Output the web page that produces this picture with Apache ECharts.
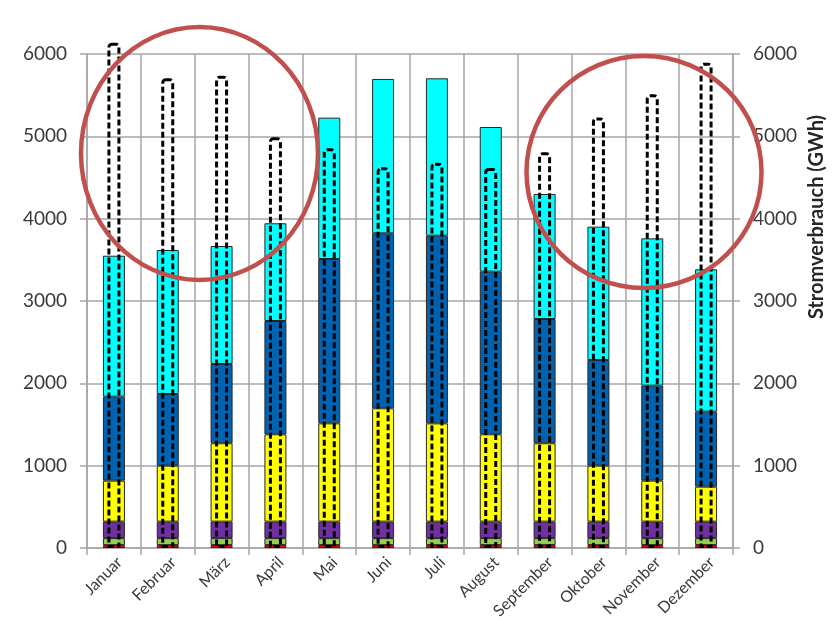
<!DOCTYPE html>
<html>
<head>
<meta charset="utf-8">
<script src="https://cdn.jsdelivr.net/npm/echarts@6/dist/echarts.min.js"></script>
<style>
  html, body { margin: 0; padding: 0; background: #ffffff; }
  #chart { width: 840px; height: 633px; }
</style>
</head>
<body>
<div id="chart"></div>
<script>
// Monthly electricity generation by source (stacked, GWh) and monthly consumption (dashed outline)
const months = ['Januar', 'Februar', 'März', 'April', 'Mai', 'Juni', 'Juli', 'August', 'September', 'Oktober', 'November', 'Dezember'];

const sourceRed    = [35, 35, 35, 35, 35, 35, 35, 35, 35, 35, 35, 35];
const sourceGreen  = [85, 85, 85, 85, 85, 85, 85, 85, 85, 85, 85, 85];
const sourcePurple = [200, 200, 200, 200, 200, 200, 200, 200, 200, 200, 200, 200];
const sourceYellow = [498, 680, 952, 1061, 1194, 1377, 1194, 1061, 952, 680, 498, 425];
const sourceBlue   = [1020, 870, 963, 1376, 1996, 2125, 2279, 1975, 1509, 1283, 1154, 911];
const sourceCyan   = [1712, 1750, 1433, 1187, 1717, 1875, 1912, 1757, 1519, 1620, 1789, 1729];

const consumption  = [6138, 5705, 5737, 4988, 4855, 4624, 4680, 4615, 4806, 5230, 5510, 5895];

const yTicks = { min: 0, max: 6000, interval: 1000 };
const axisTitle = 'Stromverbrauch (GWh)';

const chart = echarts.init(document.getElementById('chart'), null, { renderer: 'canvas' });

const fontFamily = 'Lato, "Open Sans", sans-serif';
const labelColor = '#3a3a3a';
const gridColor = '#a6a6a6';
const plainNumber = function (v) { return String(v); };

function stackSeries(name, data, color) {
  return {
    name: name,
    type: 'bar',
    stack: 'gen',
    xAxisIndex: 0,
    yAxisIndex: 0,
    barWidth: 22,
    data: data,
    itemStyle: { color: color, borderColor: '#262626', borderWidth: 1 },
    z: 2
  };
}

const option = {
  animation: false,
  backgroundColor: '#ffffff',
  grid: { left: 87, right: 107, top: 54, bottom: 85, containLabel: false },
  xAxis: [
    {
      type: 'category',
      data: months,
      boundaryGap: true,
      axisLine: { show: true, lineStyle: { color: gridColor, width: 1.5 } },
      axisTick: { show: true, alignWithLabel: false, length: 7, lineStyle: { color: gridColor, width: 1.5 } },
      splitLine: { show: true, lineStyle: { color: gridColor, width: 1.5 } },
      axisLabel: {
        rotate: 45,
        margin: 6,
        verticalAlign: 'top',
        color: labelColor,
        fontFamily: fontFamily,
        fontSize: 16
      }
    },
    {
      type: 'category',
      data: months,
      show: false,
      boundaryGap: true
    }
  ],
  yAxis: [
    {
      type: 'value',
      position: 'left',
      min: yTicks.min, max: yTicks.max, interval: yTicks.interval,
      axisLine: { show: true, lineStyle: { color: gridColor, width: 1.5 } },
      axisTick: { show: true, length: 7, lineStyle: { color: gridColor, width: 1.5 } },
      splitLine: { show: true, lineStyle: { color: gridColor, width: 1.5 } },
      axisLabel: { color: labelColor, fontFamily: fontFamily, fontSize: 19, margin: 20, formatter: plainNumber }
    },
    {
      type: 'value',
      position: 'right',
      min: yTicks.min, max: yTicks.max, interval: yTicks.interval,
      axisLine: { show: true, lineStyle: { color: gridColor, width: 1.5 } },
      axisTick: { show: true, length: 7, lineStyle: { color: gridColor, width: 1.5 } },
      splitLine: { show: false },
      axisLabel: { color: labelColor, fontFamily: fontFamily, fontSize: 19, margin: 20, formatter: plainNumber }
    }
  ],
  series: [
    stackSeries('Rot', sourceRed, '#ff0000'),
    stackSeries('Grün', sourceGreen, '#92d050'),
    stackSeries('Violett', sourcePurple, '#7030a0'),
    stackSeries('Gelb', sourceYellow, '#ffff00'),
    stackSeries('Blau', sourceBlue, '#0063b1'),
    stackSeries('Türkis', sourceCyan, '#00ffff'),
    {
      name: axisTitle,
      type: 'bar',
      xAxisIndex: 1,
      yAxisIndex: 1,
      barWidth: 13,
      clip: false,
      data: consumption,
      itemStyle: {
        color: 'rgba(0,0,0,0)',
        borderColor: '#000000',
        borderWidth: 3,
        borderType: [6, 3],
        borderRadius: [3, 3, 0, 0]
      },
      z: 5
    }
  ],
  graphic: [
    {
      type: 'text',
      x: 817,
      y: 217,
      rotation: Math.PI / 2,
      style: {
        text: axisTitle,
        font: 'bold 20px ' + fontFamily,
        fill: '#262626',
        textAlign: 'center',
        textVerticalAlign: 'middle'
      },
      z: 20
    },
    {
      type: 'ellipse',
      shape: { cx: 199.5, cy: 153.5, rx: 118.5, ry: 126.5 },
      style: { fill: 'none', stroke: '#c0504d', lineWidth: 4.5 },
      z: 30
    },
    {
      type: 'ellipse',
      shape: { cx: 644, cy: 172, rx: 117.5, ry: 116 },
      style: { fill: 'none', stroke: '#c0504d', lineWidth: 4.5 },
      z: 30
    }
  ]
};

chart.setOption(option);
</script>
</body>
</html>
